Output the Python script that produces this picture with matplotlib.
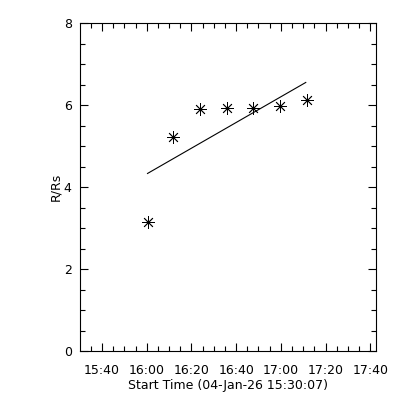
import matplotlib
matplotlib.use("Agg")
import matplotlib.pyplot as plt
import matplotlib.dates as mdates
from datetime import datetime

# observation times (04-Jan-26) and heights in solar radii
obs_times = ["16:00:20", "16:11:40", "16:23:50", "16:35:50", "16:47:40", "16:59:50", "17:11:40"]
obs_r = [3.14, 5.23, 5.90, 5.92, 5.92, 5.98, 6.12]

# fitted line end points
fit_times = ["16:00:20", "17:11:10"]
fit_r = [4.33, 6.55]

start_time = "15:30:07"
end_time = "17:42:36"


def to_dt(s):
    h, m, sec = [int(v) for v in s.split(":")]
    return datetime(2026, 1, 4, h, m, sec)


fig = plt.figure(figsize=(4, 4), dpi=100)
ax = fig.add_axes([0.2, 0.1225, 0.74, 0.82])

ax.plot([to_dt(t) for t in fit_times], fit_r, color="black", lw=0.8)
ax.plot([to_dt(t) for t in obs_times], obs_r, ls="none", marker=(8, 2, 0),
        ms=9, mew=0.6, color="black")

ax.set_xlim(to_dt(start_time), to_dt(end_time))
ax.set_ylim(0, 8)

ax.xaxis.set_major_locator(mdates.MinuteLocator(byminute=[0, 20, 40]))
ax.xaxis.set_minor_locator(mdates.MinuteLocator(byminute=range(0, 60, 5)))
ax.xaxis.set_major_formatter(mdates.DateFormatter("%H:%M"))
ax.set_yticks([0, 2, 4, 6, 8])
ax.set_yticks([i * 0.5 for i in range(17)], minor=True)

ax.tick_params(which="both", direction="in", top=True, right=True, labelsize=9)
ax.tick_params(axis="x", pad=9)
ax.tick_params(axis="y", pad=6)
ax.tick_params(which="major", length=6, width=0.8)
ax.tick_params(which="minor", length=3.5, width=0.8)
for sp in ax.spines.values():
    sp.set_linewidth(0.8)

ax.set_xlabel("Start Time (04-Jan-26 15:30:07)", fontsize=9, labelpad=2)
ax.set_ylabel("R/Rs", fontsize=9, labelpad=1)

plt.savefig("out.png", dpi=100)
